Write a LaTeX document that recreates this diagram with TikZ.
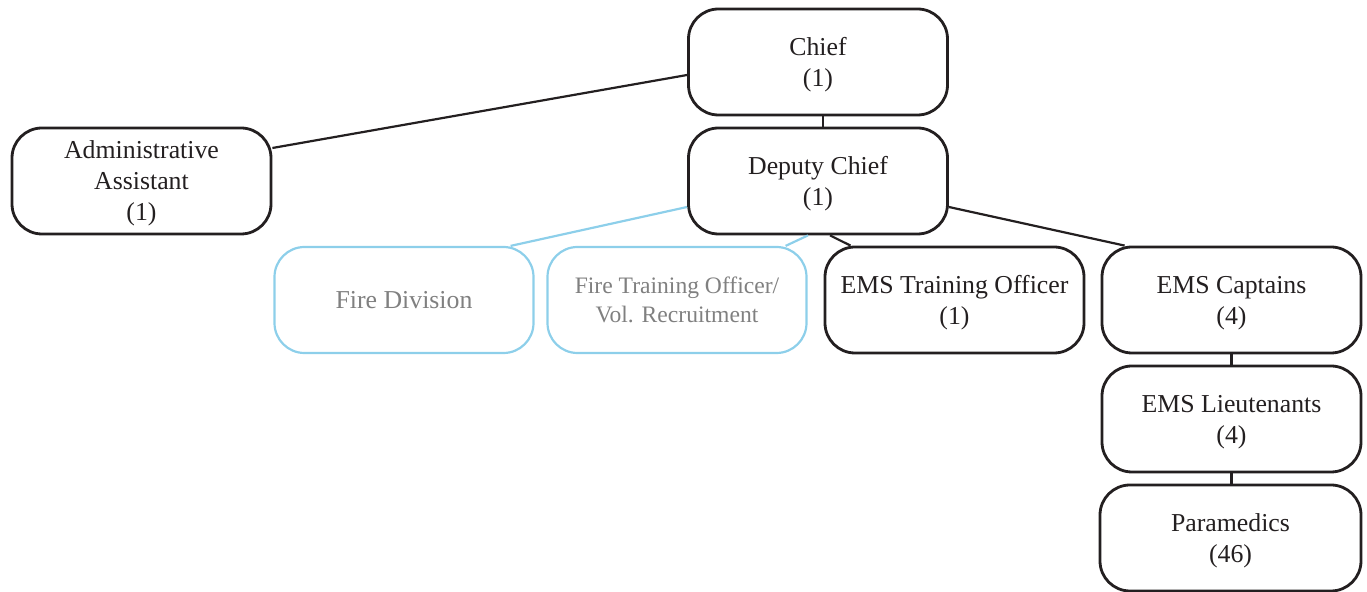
\documentclass[tikz,border=0pt]{standalone}
\usepackage{fontspec}
\setmainfont{Liberation Serif}
\usetikzlibrary{calc}
\definecolor{ink}{HTML}{231F20}
\definecolor{skyb}{HTML}{8DCFEA}
\definecolor{greytxt}{HTML}{808080}
\begin{document}
\begin{tikzpicture}[x=0.5pt,y=-0.5pt,
  box/.style={draw=ink,line width=1.4pt,rounded corners=15pt,minimum width=129.5pt,minimum height=53pt,inner sep=0pt,align=center,text=ink,text depth=0pt,font=\fontsize{12.9pt}{15.5pt}\selectfont},
  bluebox/.style={box,draw=skyb,line width=1.1pt,text=greytxt},
  link/.style={draw=ink,line width=1.1pt},
  bluelink/.style={draw=skyb,line width=1.1pt}]
\useasboundingbox (0,0) rectangle (1367,592);
\node[box] (chief) at (818,62) {Chief\\(1)};
\node[box] (deputy) at (818,181) {Deputy Chief\\(1)};
\node[box] (admin) at (141.5,181) {Administrative\\Assistant\\(1)};
\node[bluebox] (fire) at (404,300) {Fire Division};
\node[bluebox,font=\fontsize{11.8pt}{14.5pt}\selectfont] (firetr) at (677,300) {Fire Training Officer/\\Vol. Recruitment};
\node[box] (emstr) at (954.5,300) {EMS Training Officer\\(1)};
\node[box] (capt) at (1231.5,300) {EMS Captains\\(4)};
\node[box] (lieut) at (1231.5,419) {EMS Lieutenants\\(4)};
\node[box,minimum width=130.5pt] (para) at (1230.5,538) {Paramedics\\(46)};
\draw[link] ([yshift=-6.5pt]chief.west) -- ([yshift=16.5pt]admin.east);
\draw[link] ([xshift=2.5pt]chief.south) -- ([xshift=2.5pt]deputy.north);
\draw[bluelink] ([yshift=-13pt]deputy.west) -- ([xshift=-12pt]fire.north east);
\draw[bluelink] ([xshift=-5pt]deputy.south) -- ([xshift=-11pt]firetr.north east);
\draw[link] ([xshift=6pt]deputy.south) -- ([xshift=-52pt]emstr.north);
\draw[link] ([yshift=-13pt]deputy.east) -- ([xshift=12pt]capt.north west);
\draw[link] (capt.south) -- (lieut.north);
\draw[link] (lieut.south) -- (lieut.south |- para.north);
\end{tikzpicture}
\end{document}
